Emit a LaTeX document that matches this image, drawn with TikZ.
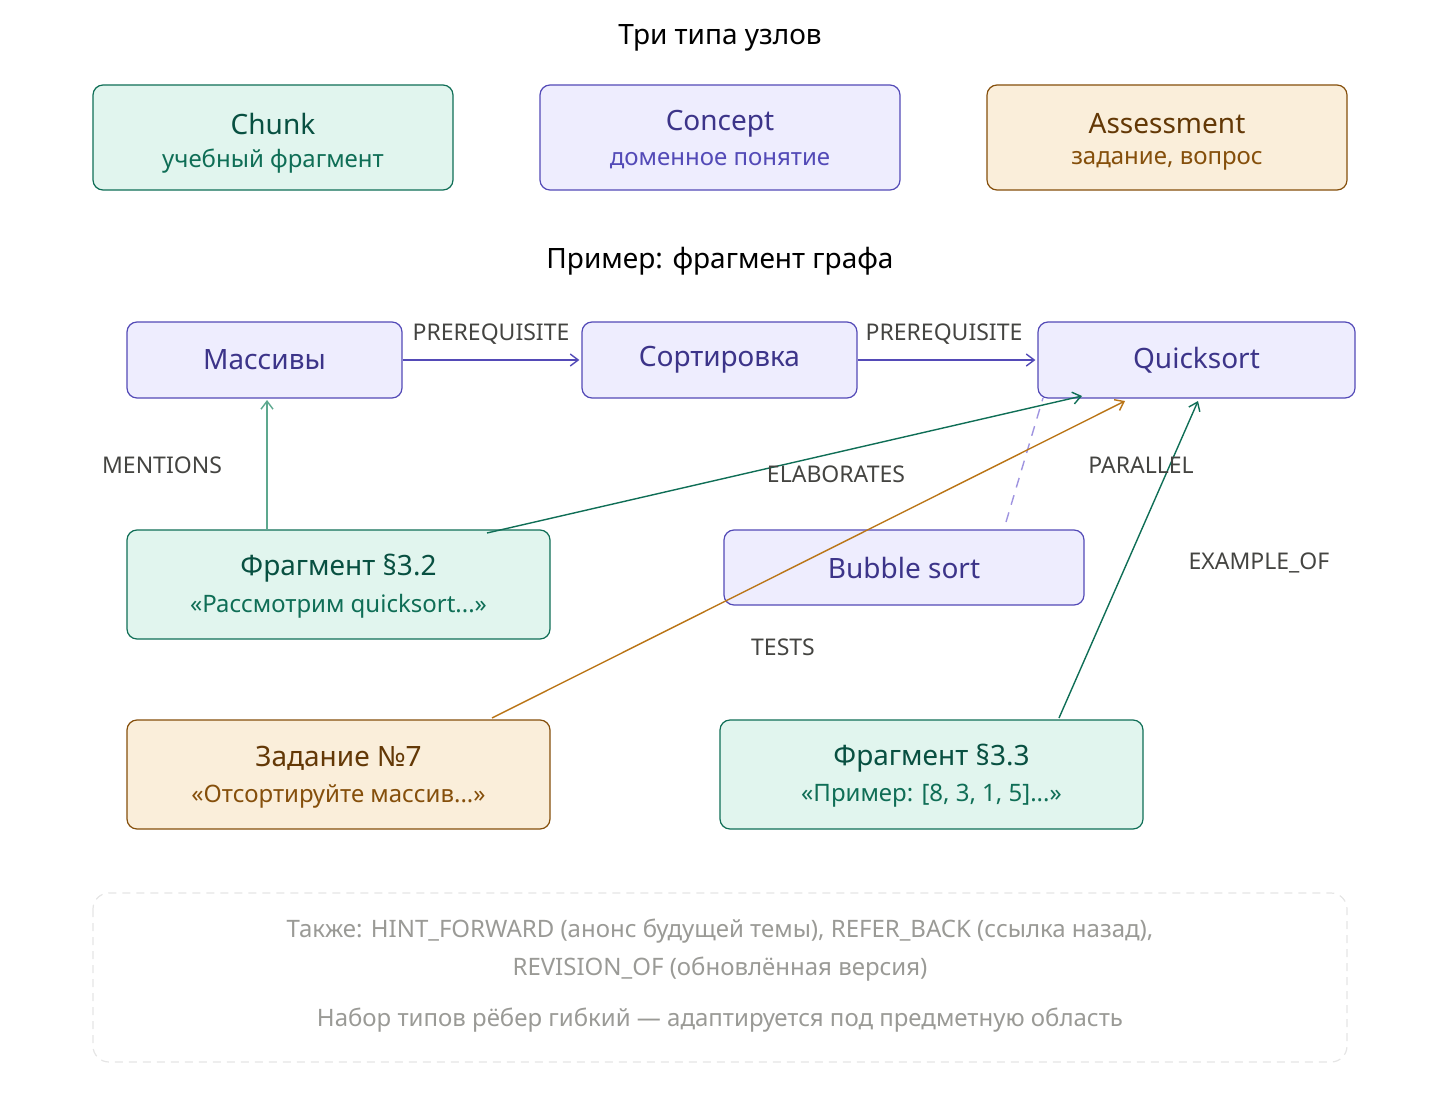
\documentclass[tikz,border=0pt]{standalone}
\usepackage{fontspec}
\setmainfont{Noto Sans}
\usetikzlibrary{arrows.meta}
\definecolor{gB}{HTML}{0F6E56}\definecolor{gF}{HTML}{E1F5EE}\definecolor{gT}{HTML}{085041}
\definecolor{pB}{HTML}{534AB7}\definecolor{pF}{HTML}{EEEDFE}\definecolor{pT}{HTML}{3C3489}
\definecolor{oB}{HTML}{854F0B}\definecolor{oF}{HTML}{FAEEDA}\definecolor{oT}{HTML}{633806}
\definecolor{lg}{HTML}{5DA88E}\definecolor{orr}{HTML}{BA7517}\definecolor{lav}{HTML}{9F94E0}
\definecolor{lbl}{HTML}{444441}\definecolor{ft}{HTML}{9A9A96}
\begin{document}
\begin{tikzpicture}[x=0.5pt,y=-0.5pt,
 box/.style={draw,rounded corners=5pt,line width=0.6pt,inner sep=0},
 green/.style={box,draw=gB,fill=gF},
 purple/.style={box,draw=pB,fill=pF},
 orange/.style={box,draw=oB,fill=oF},
 ttl/.style={font=\fontsize{14}{16}\selectfont\bfseries},
 sub/.style={font=\fontsize{12}{14}\selectfont},
 lab/.style={font=\fontsize{11.5}{14}\selectfont,text=lbl},
 ed/.style={line width=0.7pt,-{Straight Barb[length=4pt,width=6pt]}}]
\useasboundingbox (0,0) rectangle (1440,1102);
\node[font=\fontsize{14}{16}\selectfont\bfseries] (t1) at (720,38) {Три типа узлов};
\node[font=\fontsize{14}{16}\selectfont\bfseries] (t2) at (720,261) {Пример: фрагмент графа};
% legend
\draw[green] (93,85) rectangle (453,190);
\node[ttl,text=gT] (l1) at (273,124) {Chunk};
\node[sub,text=gB] (l1s) at (273,161) {учебный фрагмент};
\draw[purple] (540,85) rectangle (900,190);
\node[ttl,text=pT] (l2) at (720,124) {Concept};
\node[sub,text=pB] (l2s) at (720,161) {доменное понятие};
\draw[orange] (987,85) rectangle (1347,190);
\node[ttl,text=oT] (l3) at (1167,124) {Assessment};
\node[sub,text=oB] (l3s) at (1167,161) {задание, вопрос};
% graph nodes
\node[purple,minimum width=137.5pt,minimum height=38pt] (mas) at (264.5,360) {};
\node[ttl,text=pT] at (mas) {Массивы};
\node[purple,minimum width=137.5pt,minimum height=38pt] (sor) at (719.5,360) {};
\node[ttl,text=pT] at (sor) {Сортировка};
\node[purple,minimum width=158.5pt,minimum height=38pt] (qs) at (1196.5,360) {};
\node[ttl,text=pT] at (qs) {Quicksort};
\node[green,minimum width=211.5pt,minimum height=54.5pt] (f32) at (338.5,584.5) {};
\node[ttl,text=gT] at (338.5,568) {Фрагмент §3.2};
\node[sub,text=gB] at (338.5,606) {«Рассмотрим quicksort...»};
\node[purple,minimum width=180pt,minimum height=37.5pt] (bub) at (904,567.5) {};
\node[green,minimum width=211.5pt,minimum height=54.5pt] (f33) at (931.5,774.5) {};
\node[ttl,text=gT] at (931.5,758) {Фрагмент §3.3};
\node[sub,text=gB] at (931.5,796) {«Пример: [8, 3, 1, 5]...»};
% edges
\coordinate (a1) at (267,530); \coordinate (a1e) at (267,400);
\coordinate (a2) at (487,533); \coordinate (a2e) at (1082,396);
\coordinate (a3) at (1006,522); \coordinate (a3e) at (1043,398);
\coordinate (a4) at (492,718); \coordinate (a4e) at (1125,401);
\coordinate (a5) at (1059,718); \coordinate (a5e) at (1198,401);
\draw[ed,pB] (mas.east) -- ([xshift=-1pt]sor.west);
\draw[ed,pB] (sor.east) -- ([xshift=-1pt]qs.west);
\draw[ed,lg] (a1) -- (a1e);
\draw[ed,gB] (a2) -- (a2e);
\draw[lav,line width=0.7pt,dash pattern=on 5pt off 4pt] (a3) -- (a3e);
\node[ttl,text=pT] at (bub) {Bubble sort};
% assessment node drawn before its arrow crosses bubble? arrow drawn over bubble
\draw[ed,orr] (a4) -- (a4e);
\node[orange,minimum width=211.5pt,minimum height=54.5pt] (zad) at (338.5,774.5) {};
\node[ttl,text=oT] at (338.5,758) {Задание №7};
\node[sub,text=oB] at (338.5,796) {«Отсортируйте массив...»};
\draw[ed,gB] (a5) -- (a5e);
% labels
\node[lab] at (491,334) {PREREQUISITE};
\node[lab] at (944,334) {PREREQUISITE};
\node[lab] at (162,465) {MENTIONS};
\node[lab] at (836,474) {ELABORATES};
\node[lab] at (1141,465) {PARALLEL};
\node[lab] at (783,647) {TESTS};
\node[lab] at (1259,563) {EXAMPLE\_OF};
% footer
\draw[draw=black!10,rounded corners=8pt,line width=0.6pt,dash pattern=on 4pt off 3pt] (93,893) rectangle (1347,1062);
\node[sub,text=ft] at (720,931) {Также: HINT\_FORWARD (анонс будущей темы), REFER\_BACK (ссылка назад),};
\node[sub,text=ft] at (720,969) {REVISION\_OF (обновлённая версия)};
\node[sub,text=ft] at (720,1020) {Набор типов рёбер гибкий — адаптируется под предметную область};
\end{tikzpicture}
\end{document}
